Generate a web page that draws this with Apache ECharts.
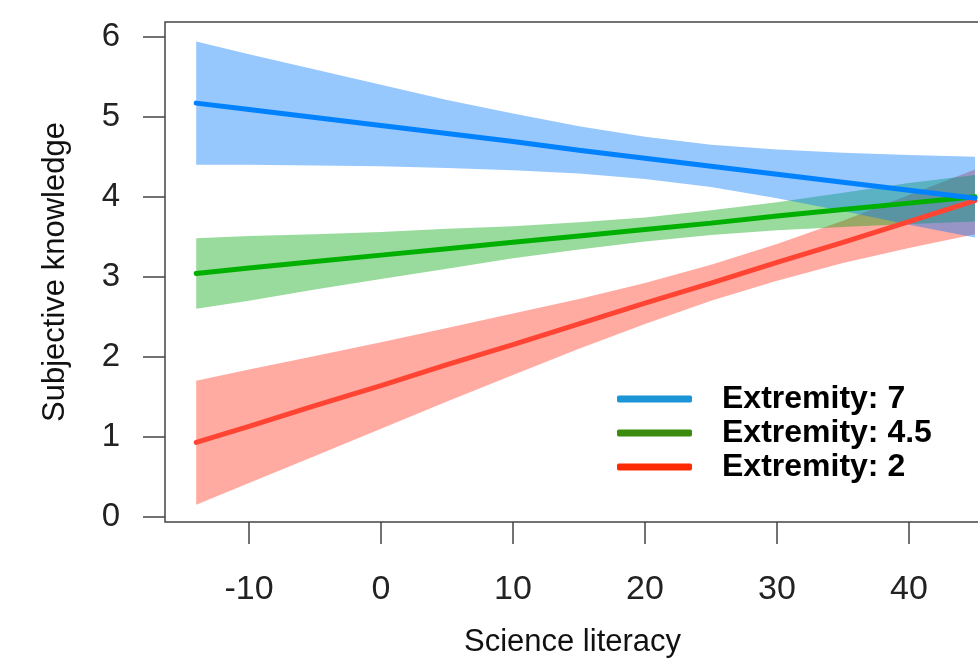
<!DOCTYPE html>
<html>
<head>
<meta charset="utf-8">
<script src="https://cdn.jsdelivr.net/npm/echarts@6/dist/echarts.min.js"></script>
<style>
html,body{margin:0;padding:0;background:#fff;}
#c{width:978px;height:658px;}
</style>
</head>
<body>
<div id="c"></div>
<script>
// ---- data ----
var xs = [-14, -10, -5, 0, 5, 10, 15, 20, 25, 30, 35, 40, 45];

var fit7   = [5.17, 5.09, 4.99, 4.89, 4.79, 4.69, 4.58, 4.48, 4.38, 4.28, 4.18, 4.08, 3.98];
var lo7    = [4.40, 4.40, 4.39, 4.38, 4.36, 4.33, 4.29, 4.22, 4.12, 3.98, 3.82, 3.65, 3.49];
var hi7    = [5.94, 5.78, 5.59, 5.40, 5.21, 5.04, 4.88, 4.75, 4.65, 4.59, 4.55, 4.52, 4.50];

var fit45  = [3.04, 3.11, 3.19, 3.27, 3.35, 3.43, 3.51, 3.59, 3.67, 3.76, 3.84, 3.92, 4.00];
var lo45   = [2.60, 2.70, 2.84, 2.97, 3.10, 3.23, 3.34, 3.44, 3.52, 3.58, 3.62, 3.66, 3.69];
var hi45   = [3.48, 3.51, 3.53, 3.56, 3.60, 3.63, 3.68, 3.74, 3.83, 3.93, 4.05, 4.17, 4.27];

var fit2   = [0.93, 1.13, 1.39, 1.64, 1.90, 2.15, 2.41, 2.67, 2.92, 3.18, 3.43, 3.69, 3.95];
var lo2    = [0.15, 0.42, 0.76, 1.10, 1.44, 1.77, 2.10, 2.41, 2.70, 2.95, 3.17, 3.36, 3.53];
var hi2    = [1.70, 1.84, 2.01, 2.18, 2.36, 2.54, 2.72, 2.92, 3.15, 3.41, 3.70, 4.02, 4.34];

var xTicks = [-10, 0, 10, 20, 30, 40];
var yTicks = [0, 1, 2, 3, 4, 5, 6];
var names  = ['Extremity: 7', 'Extremity: 4.5', 'Extremity: 2'];

// ---- build ----
function pairs(v){ return xs.map(function(x,i){ return [x, v[i]]; }); }

var FONT = '"Liberation Sans", Arial, Helvetica, sans-serif';

function band(lo, hi, fill){
  return {
    type:'custom', silent:true, clip:true,
    data: xs.map(function(x,i){ return [x, lo[i], hi[i]]; }),
    encode:{x:0, y:[1,2]},
    renderItem:function(params, api){
      if (params.dataIndex !== 0) return null;
      var pts = [], i;
      for (i = 0; i < xs.length; i++) pts.push(api.coord([xs[i], hi[i]]));
      for (i = xs.length - 1; i >= 0; i--) pts.push(api.coord([xs[i], lo[i]]));
      return { type:'polygon', shape:{points:pts}, style:{fill:fill, stroke:null} };
    }
  };
}
function fitLine(name, v, color){
  return { type:'line', name:name, data:pairs(v), symbol:'none', silent:true,
    lineStyle:{color:color, width:5, cap:'round'}, itemStyle:{color:color} };
}

var series = [
  band(lo2, hi2, 'rgba(255,60,40,0.43)'),
  fitLine(names[2], fit2, '#ff4433'),
  band(lo45, hi45, 'rgba(0,165,10,0.40)'),
  fitLine(names[1], fit45, '#00b000'),
  band(lo7, hi7, 'rgba(0,120,250,0.41)'),
  fitLine(names[0], fit7, '#0082ff')
];
series.forEach(function(s, k){ s.z = 2; s.z2 = k; });

var chart = echarts.init(document.getElementById('c'), null, {renderer:'canvas'});
chart.setOption({
  animation:false,
  backgroundColor:'#ffffff',
  textStyle:{fontFamily:FONT},
  grid:{left:165, top:22, width:815, height:500, show:true, borderColor:'#444', borderWidth:1.5,
        backgroundColor:'transparent', containLabel:false, outerBoundsMode:'none'},
  xAxis:{
    type:'value', min:-16.364, max:45.38,
    name:'Science literacy', nameLocation:'middle', nameGap:105,
    nameTextStyle:{fontSize:31, color:'#111', fontFamily:FONT},
    axisLine:{show:false, onZero:false},
    splitLine:{show:false},
    axisTick:{show:true, customValues:xTicks, length:22, inside:false, lineStyle:{color:'#444', width:1.5}},
    axisLabel:{customValues:xTicks, fontSize:34, color:'#222', margin:51, fontFamily:FONT}
  },
  yAxis:{
    type:'value', min:-0.066, max:6.184,
    name:'Subjective knowledge', nameLocation:'middle', nameGap:94, nameRotate:90,
    nameTextStyle:{fontSize:31, color:'#111', fontFamily:FONT},
    axisLine:{show:false, onZero:false},
    splitLine:{show:false},
    axisTick:{show:true, customValues:yTicks, length:22, inside:false, lineStyle:{color:'#444', width:1.5}},
    axisLabel:{customValues:yTicks, fontSize:33, color:'#222', margin:45, fontFamily:FONT}
  },
  legend:{
    orient:'vertical', left:617, top:382, padding:0, itemGap:0,
    itemWidth:75, itemHeight:7, icon:'roundRect', selectedMode:false,
    textStyle:{fontSize:32, fontWeight:'bold', color:'#000', lineHeight:34, padding:[0,0,0,25], fontFamily:FONT},
    data:[
      {name:names[0], itemStyle:{color:'#1b95d6'}},
      {name:names[1], itemStyle:{color:'#3b8b0c'}},
      {name:names[2], itemStyle:{color:'#fe2a03'}}
    ]
  },
  series:series
});
</script>
</body>
</html>
